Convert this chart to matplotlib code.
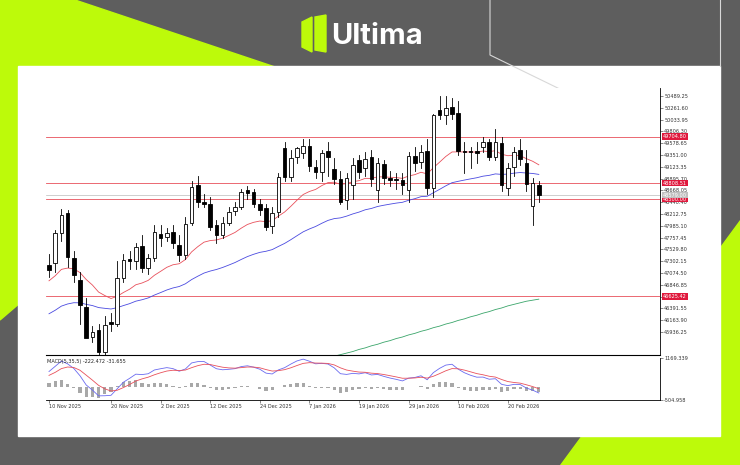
import numpy as np
import matplotlib
matplotlib.use("Agg")
import matplotlib.pyplot as plt
from matplotlib.patches import Polygon, Rectangle

opens = [47230,47268,47846,48232,47364,46940,46419,45840,45975,45550,46130,46100,46978,47340,47300,47595,47171,47364,47827,47770,
         47866,47615,47422,48040,48772,48444,48405,48000,47808,48040,48270,48347,48676,48637,48405,48328,47981,48251,49486,48927,
         49312,49389,49524,49120,49023,49428,49081,48888,48483,48772,49255,49100,49312,48676,49178,48900,48880,48869,48676,49332,
         49216,49428,48714,50219,50123,50277,50161,49428,49420,49420,49505,49601,49312,49582,48714,49120,49447,49197,48367,48772]
closes = [47130,47846,48194,47383,47036,46457,45821,45937,45550,46072,46100,46978,47326,47300,47576,47171,47364,47866,47750,47846,
          47654,47422,48020,48734,48444,48405,47962,47808,48040,48251,48347,48637,48618,48405,48290,47962,48232,48927,48927,49293,
          49486,49524,49139,49023,49389,49312,48888,48444,48907,49158,49023,49274,48888,49197,48907,48869,48860,48772,49332,49197,
          49409,48714,50123,50123,50258,50142,49428,49400,49400,49390,49601,49312,49601,48772,49100,49409,49274,48792,48811,48579]
highs = [47450,47900,48300,48290,47500,47100,46600,46050,46100,46250,46300,47300,47450,47500,47650,47800,47450,48000,48000,47950,
         48000,47800,48150,48850,48950,48600,48550,48100,48150,48350,48450,48700,48750,48700,48500,48400,48350,49000,49600,49450,
         49500,49650,49650,49250,49450,49600,49300,49050,49000,49300,49350,49400,49450,49300,49250,49050,49000,49000,49400,49500,
         49550,49650,50150,50490,50490,50450,50400,49600,49500,49600,49700,49650,49850,49700,49200,49500,49650,49450,48900,48850]
lows   = [47000,47100,47700,47200,46900,46100,45850,45750,45500,45430,45950,46050,46900,47150,47150,47100,47050,47300,47600,47700,
         47550,47300,47350,48000,48350,48350,47900,47650,47750,48000,48200,48300,48500,48350,48200,47900,47850,48150,48850,48850,
         49200,49300,49050,48900,48850,48950,48800,48400,48300,48500,48900,48950,48750,48450,48800,48750,48700,48600,48450,49050,
         49100,48600,48540,50050,49950,50050,49350,49000,49100,49200,49400,49250,49250,48650,48580,48950,49150,48650,48000,48450]
green_ma = [45430,45470,45500,45530,45560,45600,45630,45670,45700,45740,45770,45810,45840,45880,45910,45950,45980,46020,
            46050,46090,46120,46160,46190,46230,46260,46300,46330,46370,46400,46440,46470,46500,46530,46550,46570]
hlines_red = [49704.80, 48808.51, 48500.00, 46625.42]
price_ticks = [50489.25,50261.60,50033.95,49806.30,49578.65,49351.00,49123.35,48895.70,48668.05,48440.40,48212.75,
               47985.10,47757.45,47529.80,47302.15,47074.50,46846.85,46619.20,46391.55,46163.90,45936.25]
date_labels = ["10 Nov 2025","20 Nov 2025","2 Dec 2025","12 Dec 2025","24 Dec 2025","7 Jan 2026","19 Jan 2026",
               "29 Jan 2026","10 Feb 2026","20 Feb 2026"]
date_idx = [0,10,18,26,34,42,50,58,66,74]

W, H = 740, 465
fig = plt.figure(figsize=(7.4, 4.65), dpi=100)
bg = fig.add_axes([0, 0, 1, 1]); bg.set_xlim(0, W); bg.set_ylim(H, 0); bg.axis("off")
bg.add_patch(Rectangle((0, 0), W, H, color="#5e5e5e"))
lime = "#bdfa0a"
bg.add_patch(Polygon([(0, 0), (75, 0), (290, 72), (0, 320)], color=lime))
bg.add_patch(Polygon([(560, 465), (740, 465), (740, 220)], color=lime))
bg.plot([490, 490, 568], [0, 55, 93], color="#d8d8d8", lw=0.8)
bg.plot([720, 720], [0, 66], color="#d8d8d8", lw=0.8)
bg.add_patch(Rectangle((18, 66), 702, 370, color="white"))
bg.add_patch(Polygon([(302, 22), (312, 17), (312, 52), (302, 47)], color=lime))
bg.add_patch(Polygon([(315, 17), (326, 15), (326, 52), (315, 50)], color=lime))
bg.text(331, 36, "Ultima", color="white", fontsize=21, fontweight="bold", va="center", ha="left", family="Inter")
bg.add_patch(Rectangle((49, 90), 5, 5, color="#1f3e7a"))
bg.add_patch(Rectangle((56, 90), 5, 5, color="#c0392b"))
bg.text(63, 93, "D30, Daily:  Dow Jones Index Cash CFD (USD)", fontsize=3.6, va="center", color="#222")

def fx(px): return px / W
def fy(py): return 1 - py / H
ax = fig.add_axes([fx(46), fy(355), fx(660) - fx(46), fy(88) - fy(355)])
x0, dx = 49, 6.2
ax.set_xlim((46 - x0) / dx, (660 - x0) / dx)
ax.set_ylim(45493, 50643)
n = len(closes)
idx = np.arange(n)
for i in range(n):
    o, c, h, l = opens[i], closes[i], highs[i], lows[i]
    ax.plot([i, i], [l, h], color="black", lw=0.6, zorder=3)
    up = c >= o
    ax.add_patch(Rectangle((i - 0.3, min(o, c)), 0.6, max(abs(c - o), 8),
                           facecolor="white" if up else "black", edgecolor="black", lw=0.6, zorder=4))
def ema(vals, period, seed):
    a = 2 / (period + 1); out = []; e = seed
    for v in vals:
        e = e + a * (v - e); out.append(e)
    return np.array(out)
ax.plot(idx, ema(closes, 18, 46900), color="#e8505b", lw=0.6, zorder=2)
ax.plot(idx, ema(closes, 45, 46250), color="#4a4ae0", lw=0.6, zorder=2)
ax.plot(np.arange(n - len(green_ma), n), green_ma, color="#3aa56a", lw=0.6, zorder=2)
for v in hlines_red:
    ax.axhline(v, color="#e8505b", lw=0.6, zorder=1)
ax.axhline(closes[-1], color="#bbbbbb", lw=0.5, zorder=1)
ax.set_xticks([])
ax.yaxis.tick_right()
ax.set_yticks(price_ticks)
ax.set_yticklabels([f"{t:.2f}" for t in price_ticks])
ax.tick_params(axis="y", labelsize=3.6, length=2, width=0.4, pad=1, colors="#333")
for s in ["top", "left"]:
    ax.spines[s].set_visible(False)
ax.spines["right"].set_linewidth(0.6); ax.spines["bottom"].set_linewidth(0.8)
for v, col in [(49704.80, "#e0193d"), (48808.51, "#e0193d"), (48500.00, "#e0193d"), (46625.42, "#e0193d"), (closes[-1], "#c0c0c0")]:
    ax.text(1.005, v, f"{v:.2f}", transform=ax.get_yaxis_transform(), fontsize=3.6, color="white",
            va="center", ha="left", bbox=dict(boxstyle="square,pad=0.15", fc=col, ec="none"), zorder=10, clip_on=False)

ax2 = fig.add_axes([fx(46), fy(400), fx(660) - fx(46), fy(358) - fy(400)])
ax2.set_xlim(ax.get_xlim())
c = np.array(closes, float)
macd = ema(c, 5, 46900) - ema(c, 35, 46300)
sig = ema(macd, 5, 400)
hist = macd - sig
ax2.bar(idx, hist, width=0.5, color="#a8a8a8")
ax2.plot(idx, macd, color="#6a6af0", lw=0.6)
ax2.plot(idx, sig, color="#e8505b", lw=0.6)
ax2.set_ylim(-504.958, 1169.339)
ax2.yaxis.tick_right()
ax2.set_yticks([1169.339, -504.958])
ax2.set_yticklabels(["1169.339", "-504.958"])
ax2.tick_params(axis="y", labelsize=3.6, length=2, width=0.4, pad=1, colors="#333")
ax2.set_xticks(date_idx)
ax2.set_xticklabels(date_labels)
ax2.tick_params(axis="x", labelsize=3.6, length=2, width=0.4, pad=1, colors="#333")
for lab in ax2.get_xticklabels(): lab.set_horizontalalignment("left")
for s in ["top", "left"]:
    ax2.spines[s].set_visible(False)
ax2.spines["right"].set_linewidth(0.6); ax2.spines["bottom"].set_linewidth(0.6)
ax2.text(0.002, 0.97, "MACD(5,35,5) -222.472 -31.655", transform=ax2.transAxes,
         fontsize=3.6, va="top", color="#222")

fig.savefig("out.png", dpi=100)
